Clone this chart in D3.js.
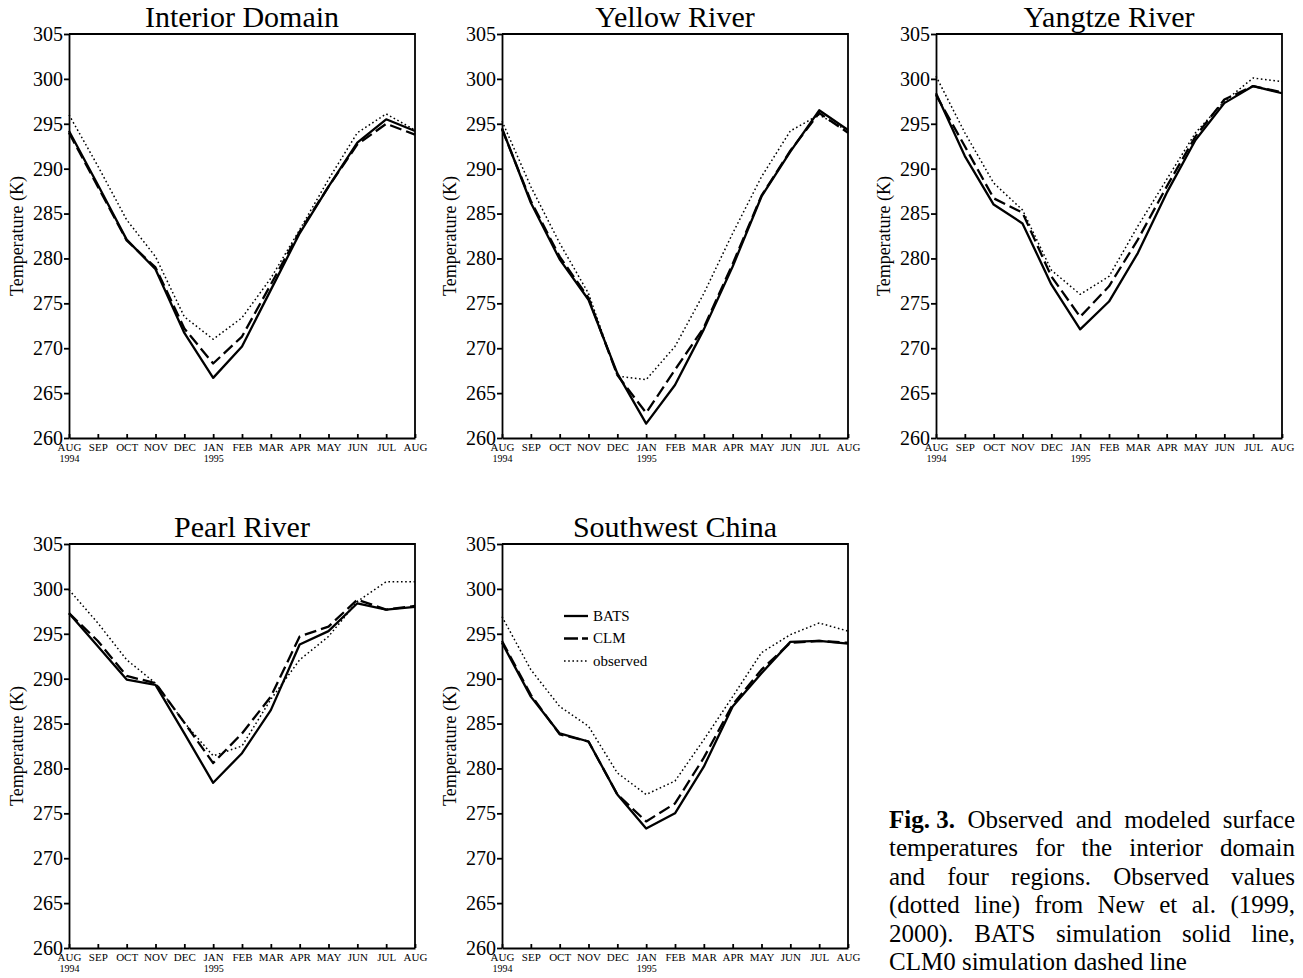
<!DOCTYPE html>
<html>
<head>
<meta charset="utf-8">
<script src="https://cdn.jsdelivr.net/npm/d3@7/dist/d3.min.js"></script>
<style>
body { margin: 0; background: #fff; }
svg text { font-family: "Liberation Serif", "Times New Roman", serif; fill: #000; }
</style>
</head>
<body>
<svg id="fig" width="1303" height="978"></svg>
<script>
// Month ticks and year sub-labels
var months = ["AUG", "SEP", "OCT", "NOV", "DEC", "JAN", "FEB", "MAR", "APR", "MAY", "JUN", "JUL", "AUG"];
var yearLabels = ["1994", "", "", "", "", "1995", "", "", "", "", "", "", ""];
var tempTicks = [260, 265, 270, 275, 280, 285, 290, 295, 300, 305];
var regionNames = ["Interior Domain", "Yellow River", "Yangtze River", "Pearl River", "Southwest China"];

// Surface temperature (K), Aug 1994 - Aug 1995
var interiorBats = [294.2, 288.2, 282.1, 278.8, 271.7, 266.7, 270.2, 276.5, 282.8, 288.0, 292.9, 295.5, 294.2];
var interiorClm  = [294.0, 288.0, 282.0, 279.0, 272.2, 268.3, 271.3, 277.1, 283.0, 288.0, 292.7, 295.0, 293.8];
var interiorObs  = [296.0, 290.3, 284.3, 280.2, 273.5, 271.0, 273.4, 277.8, 283.2, 288.8, 294.0, 296.1, 294.3];

var yellowBats = [294.5, 286.2, 279.9, 275.4, 267.2, 261.6, 265.9, 272.1, 279.1, 286.9, 291.9, 296.5, 294.3];
var yellowClm  = [294.4, 286.4, 280.2, 275.6, 267.0, 262.8, 267.6, 272.3, 279.4, 287.0, 292.0, 296.2, 294.0];
var yellowObs  = [295.3, 288.0, 281.7, 276.1, 266.9, 266.5, 270.2, 276.1, 282.8, 289.1, 294.2, 296.0, 294.2];

var yangtzeBats = [298.4, 291.4, 286.0, 283.9, 277.1, 272.1, 275.2, 280.6, 287.3, 293.2, 297.3, 299.2, 298.4];
var yangtzeClm  = [298.2, 292.5, 286.7, 285.1, 278.0, 273.5, 276.9, 282.1, 288.0, 293.6, 297.7, 299.2, 298.5];
var yangtzeObs  = [300.3, 294.0, 288.4, 285.4, 278.7, 276.0, 278.0, 283.6, 288.8, 294.0, 297.5, 300.1, 299.7];

var pearlBats = [297.3, 293.6, 289.9, 289.3, 283.9, 278.4, 281.7, 286.5, 293.8, 295.3, 298.4, 297.7, 298.0];
var pearlClm  = [297.3, 294.2, 290.3, 289.5, 285.1, 280.6, 283.9, 288.0, 294.7, 295.8, 298.8, 297.7, 298.1];
var pearlObs  = [299.9, 296.2, 292.1, 289.5, 285.1, 281.4, 282.5, 287.7, 292.1, 294.7, 298.6, 300.8, 300.8];

var swBats = [294.0, 288.0, 283.9, 283.0, 277.1, 273.3, 275.0, 280.2, 286.9, 290.6, 294.1, 294.2, 293.9];
var swClm  = [294.2, 288.2, 283.8, 283.0, 277.1, 274.1, 276.1, 281.2, 287.1, 291.0, 294.0, 294.2, 294.0];
var swObs  = [296.9, 291.0, 286.9, 284.7, 279.5, 277.1, 278.6, 283.2, 288.0, 292.9, 294.9, 296.2, 295.3];

var seriesNames = ["BATS", "CLM", "observed"];

var captionLines = [
    ["Fig. 3.", "Observed", "and", "modeled", "surface"],
    ["temperatures", "for", "the", "interior", "domain"],
    ["and", "four", "regions.", "Observed", "values"],
    ["(dotted", "line)", "from", "New", "et", "al.", "(1999,"],
    ["2000).", "BATS", "simulation", "solid", "line,"],
    ["CLM0", "simulation", "dashed", "line"]
];

var svg = d3.select("#fig");

var panelW = 346, panelH = 404;
var panels = [
    {name: regionNames[0], bats: interiorBats, clm: interiorClm, obs: interiorObs, left: 69,  top: 34},
    {name: regionNames[1], bats: yellowBats,   clm: yellowClm,   obs: yellowObs,   left: 502, top: 34},
    {name: regionNames[2], bats: yangtzeBats,  clm: yangtzeClm,  obs: yangtzeObs,  left: 936, top: 34},
    {name: regionNames[3], bats: pearlBats,    clm: pearlClm,    obs: pearlObs,    left: 69,  top: 544},
    {name: regionNames[4], bats: swBats,       clm: swClm,       obs: swObs,       left: 502, top: 544}
];

var styles = {
    BATS:     {width: 2.3, dash: null},
    CLM:      {width: 2.3, dash: "12,5"},
    observed: {width: 1.5, dash: "1.6,2.6"}
};

var x = d3.scaleLinear().domain([0, months.length - 1]).range([0, panelW]);
var y = d3.scaleLinear().domain([260, 305]).range([panelH, 0]);

var line = d3.line()
    .x(function(d, i) { return x(i); })
    .y(function(d) { return y(d); });

panels.forEach(function(p, k) {
    var g = svg.append("g").attr("transform", "translate(" + p.left + "," + p.top + ")");

    // frame (top and right)
    g.append("path")
        .attr("d", "M0,0H" + panelW + "V" + panelH)
        .attr("fill", "none")
        .attr("stroke", "#000")
        .attr("stroke-width", 1.8);

    // y axis
    var ya = g.append("g")
        .call(d3.axisLeft(y).tickValues(tempTicks).tickSize(5).tickPadding(1).tickSizeOuter(0))
        .attr("font-family", null)
        .attr("font-size", null);
    ya.selectAll("text").style("font-size", "20px");
    ya.selectAll("path, line").attr("stroke-width", 1.8);

    // x axis (ticks point inward)
    var xa = g.append("g")
        .attr("transform", "translate(0," + panelH + ")")
        .call(d3.axisBottom(x).tickValues(d3.range(months.length)).tickSize(-4).tickPadding(5).tickSizeOuter(0)
            .tickFormat(function(i) { return months[i]; }))
        .attr("font-family", null)
        .attr("font-size", null);
    xa.selectAll("text").style("font-size", "11px");
    xa.selectAll("path, line").attr("stroke-width", 1.8);
    xa.selectAll(".tick").append("text")
        .attr("y", 24)
        .attr("text-anchor", "middle")
        .style("font-size", "10px")
        .text(function(i) { return yearLabels[i]; });

    // y label
    g.append("text")
        .attr("transform", "translate(-52," + (panelH / 2) + ") rotate(-90)")
        .attr("text-anchor", "middle")
        .attr("dy", "0.35em")
        .style("font-size", "18px")
        .text("Temperature (K)");

    // title
    g.append("text")
        .attr("x", panelW / 2)
        .attr("y", -7)
        .attr("text-anchor", "middle")
        .style("font-size", "30px")
        .text(p.name);

    // series
    var data = {BATS: p.bats, CLM: p.clm, observed: p.obs};
    seriesNames.slice().reverse().forEach(function(s) {
        g.append("path")
            .datum(data[s])
            .attr("d", line)
            .attr("fill", "none")
            .attr("stroke", "#000")
            .attr("stroke-width", styles[s].width)
            .attr("stroke-dasharray", styles[s].dash)
            .attr("stroke-linejoin", "round");
    });

    // legend in Southwest China panel
    if (k === 4) {
        var lg = g.append("g").attr("transform", "translate(62,72)");
        seriesNames.forEach(function(s, i) {
            var row = lg.append("g").attr("transform", "translate(0," + (i * 22.5) + ")");
            row.append("line")
                .attr("x1", 0).attr("x2", 24)
                .attr("stroke", "#000")
                .attr("stroke-width", styles[s].width)
                .attr("stroke-dasharray", s === "CLM" ? "14,4,6" : styles[s].dash);
            row.append("text")
                .attr("x", 29)
                .attr("dy", "0.33em")
                .style("font-size", "15px")
                .text(s);
        });
    }
});

// caption, justified
var capLeft = 889, capRight = 1295, capTop = 828, capStep = 28.4;
captionLines.forEach(function(words, li) {
    var row = svg.append("g");
    var nodes = words.map(function(w, wi) {
        return row.append("text")
            .attr("y", capTop + li * capStep)
            .style("font-size", "25px")
            .style("font-weight", (li === 0 && wi === 0) ? "bold" : null)
            .text(w);
    });
    var widths = nodes.map(function(n) { return n.node().getComputedTextLength(); });
    var total = d3.sum(widths);
    var last = li === captionLines.length - 1;
    var gap = last ? 6.25 : (capRight - capLeft - total) / (words.length - 1);
    var cx = capLeft;
    nodes.forEach(function(n, i) {
        n.attr("x", cx);
        cx += widths[i] + gap;
    });
});
</script>
</body>
</html>
